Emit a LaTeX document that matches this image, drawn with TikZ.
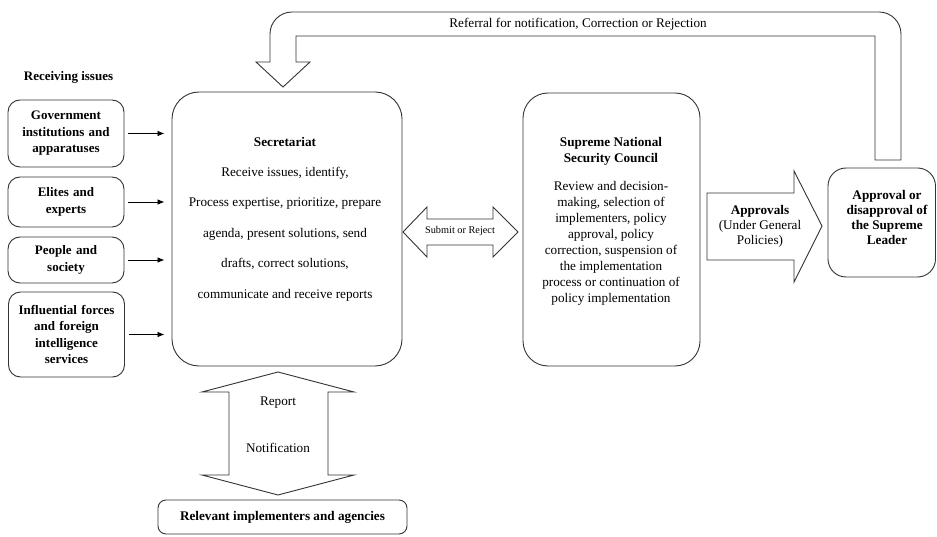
\documentclass[tikz,border=0pt]{standalone}
\usepackage{fontspec}
\setmainfont{Liberation Serif}
\usetikzlibrary{arrows.meta}
\begin{document}
\begin{tikzpicture}[x=1pt,y=-1pt,
  ln/.style={draw=black!80, line width=0.9pt},
  lbox/.style={ln, rounded corners=12pt, minimum width=116pt, text width=112pt, align=center, inner sep=0pt, font=\fontsize{13}{16.5}\selectfont\bfseries},
  bigbox/.style={ln, rounded corners=27pt, inner sep=0pt},
  txt/.style={align=center, inner sep=0pt},
  sarrow/.style={black, line width=0.8pt, -{Latex[length=7pt,width=5.5pt]}, shorten <=4pt, shorten >=7pt},
  blockarrow/.style={ln, fill=white, line join=miter}
]
\useasboundingbox (0,0) rectangle (937,537);
\fill[white] (0,0) rectangle (937,537);

% referral U-arrow
\draw[blockarrow] (875,160) -- (901,160) -- (901,34) .. controls (901,21.85) and (891.15,12) .. (879,12)
  -- (292,12) .. controls (279.85,12) and (270,21.85) .. (270,34) -- (270,62) -- (256,62) -- (283,87)
  -- (310,62) -- (296,62) -- (296,36) -- (875,36) -- cycle;
\node[txt, font=\fontsize{13.2}{15}\selectfont] (reftxt) at (578,24) {Referral for notification, Correction or Rejection};

% left column
\node[txt, font=\fontsize{13}{15}\selectfont\bfseries] (recv) at (68.5,77) {Receiving issues};
\node[lbox, minimum height=67pt] (g1) at (66,133.5) {Government\\institutions and\\apparatuses};
\node[lbox, minimum height=50pt] (g2) at (66,202) {Elites and\\experts};
\node[lbox, minimum height=46pt] (g3) at (66,260) {People and\\society};
\node[lbox, minimum height=85pt] (g4) at (66.5,334.5) {Influential forces\\and foreign\\intelligence\\services};

% secretariat
\node[bigbox, minimum width=230pt, minimum height=274pt] (sec) at (287,229) {};
\node[txt, font=\fontsize{13.2}{30.4}\selectfont] (sectxt) at (285,219)
  {\textbf{Secretariat}\\Receive issues, identify,\\Process expertise, prioritize, prepare\\agenda, present solutions, send\\drafts, correct solutions,\\communicate and receive reports};

\foreach \b in {g1,g2,g3,g4}
  \draw[sarrow] (\b.east) -- (\b.east -| sec.west);

% SNSC
\node[bigbox, rounded corners=25pt, minimum width=177pt, minimum height=273pt] (snsc) at (611.5,229.5) {};
\node[txt, font=\fontsize{13.2}{16.1}\selectfont] (snsctxt) at (611,221.5)
  {\textbf{Supreme National}\\\textbf{Security Council}\\[11.5pt]Review and decision-\\making, selection of\\implementers, policy\\approval, policy\\correction, suspension of\\the implementation\\process or continuation of\\policy implementation};

% submit or reject double arrow
\draw[blockarrow] (403,232) -- (427,207) -- (427,219) -- (493,219) -- (493,207) -- (518,232)
  -- (493,257) -- (493,245) -- (427,245) -- (427,257) -- cycle;
\node[txt, font=\fontsize{10.3}{12}\selectfont] (subtxt) at (460,231) {Submit or Reject};

% approvals arrow
\draw[blockarrow] (707,193) -- (794,193) -- (794,171) -- (822,226) -- (794,282) -- (794,260) -- (707,260) -- cycle;
\node[txt, font=\fontsize{13.2}{15}\selectfont] (apptxt) at (760,226) {\textbf{Approvals}\\(Under General\\Policies)};

% leader
\node[ln, rounded corners=18pt, minimum width=107.5pt, minimum height=109pt, inner sep=0pt] (leader) at (881.75,222.5) {};
\node[txt, font=\fontsize{13.2}{15}\selectfont\bfseries] (leadtxt) at (887,217) {Approval or\\disapproval of\\the Supreme\\Leader};

% vertical double arrow
\draw[blockarrow] (278,372) -- (354,392) -- (328,392) -- (328,475) -- (354,475) -- (278,495)
  -- (202,475) -- (229,475) -- (229,392) -- (202,392) -- cycle;
\node[txt, font=\fontsize{13.2}{15}\selectfont] (reptxt) at (278,403) {Report};
\node[txt, font=\fontsize{13.2}{15}\selectfont] (nottxt) at (278,448) {Notification};

% bottom box
\node[ln, rounded corners=8pt, minimum width=249pt, minimum height=34pt, inner sep=0pt, font=\fontsize{13.2}{15}\selectfont\bfseries] (impl) at (282.5,517) {Relevant implementers and agencies};
\end{tikzpicture}
\end{document}
